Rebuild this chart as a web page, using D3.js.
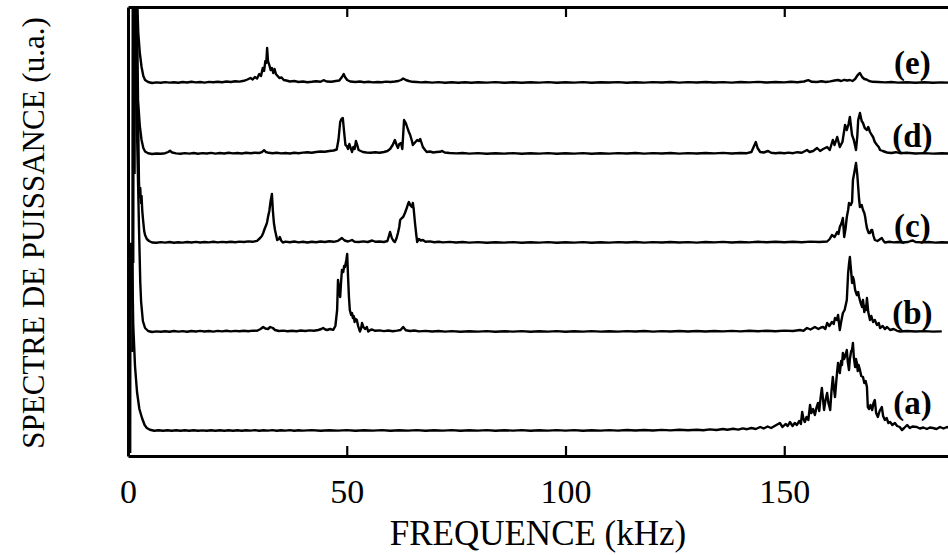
<!DOCTYPE html>
<html>
<head>
<meta charset="utf-8">
<script src="https://cdn.jsdelivr.net/npm/d3@7"></script>
<style>
  html, body { margin: 0; background: #fff; }
  svg { display: block; }
</style>
</head>
<body>
<svg id="chart" width="948" height="555"></svg>
<script>
// Power spectra (arbitrary units) vs frequency in kHz, one array of [kHz, level] per trace.
// Levels are measured from each trace's own noise floor.
const freqTicks = [0, 50, 100, 150];
const traceNames = ["(a)", "(b)", "(c)", "(d)", "(e)"];
const traceOffsets = [25, 124, 213, 302, 373];

const traceA = [
[0.5,-22],[0.55,187],[0.9,187],[1.2,106],[1.6,65],[2.06,39],[2.6,22],[3.2,13],[3.8,6],[4.3,3],[5,1.2],[6,0.3],[7,0.8],[8,0.2],[9,0.7],[10,0.3],[11,0.8],[12,0.2],[13,0.7],[14,0.3],[15,0.8],[16,0.2],[17,0.6],[18,0.3],[19,0.8],[20,0.2],[21,0.7],[22,0.3],[23,0.8],[24,0.2],[25,0.7],[26,0.3],[27,0.8],[28,0.4],[29,0.9],[30,0.3],[31,0.8],[32,0.4],[33,0.9],[34,0.3],[35,0.8],[36,0.4],[37,0.9],[38,0.3],[39,0.8],[40,0.4],[42,0.9],[44,0.3],[46,0.8],[48,0.4],[50,0.9],[52,0.3],[54,0.8],[56,0.4],[58,0.9],[60,0.3],[62,0.8],[64,0.4],[66,0.9],[68,0.3],[70,0.8],[72,0.4],[74,0.9],[76,0.3],[78,0.8],[80,0.4],[82,0.9],[84,0.3],[86,0.8],[88,0.4],[90,0.9],[92,0.3],[94,0.8],[96,0.4],[98,0.9],[100,0.4],[102,0.9],[104,0.3],[106,0.8],[108,0.4],[110,0.9],[112,0.4],[114,1],[116,0.5],[118,1],[120,0.5],[122,1.1],[124,0.6],[126,1.2],[128,0.7],[130,1.3],[131.5,0.8],[133,1.6],[134.5,1],[136,2],[137,1.2],[138.3,2.2],[139.5,1.4],[140.5,2.6],[141.5,1.8],[142.5,3],[143.5,2],[144.5,4],[145.3,2.5],[146.2,4.5],[147,3],[147.4,4],[148.2,6],[149,8],[149.6,4],[150.3,7],[150.8,5],[151.3,9],[151.9,5],[152.4,8],[152.9,6],[153.4,10],[153.8,7],[154.1,19],[154.4,12],[154.7,9],[155.1,14],[155.5,11],[155.9,26],[156.2,18],[156.6,22],[157.0,16],[157.4,24],[157.7,28],[158.0,20],[158.3,33],[158.6,43],[158.9,30],[159.1,21],[159.4,30],[159.8,38],[160.1,28],[160.5,21],[160.8,40],[161.1,54],[161.3,45],[161.6,34],[161.9,50],[162.1,60],[162.3,68],[162.5,62],[162.7,58],[163.0,70],[163.2,66],[163.4,78],[163.7,72],[164.0,76],[164.3,81],[164.5,70],[164.8,61],[165.0,72],[165.3,80],[165.5,81],[165.7,88],[165.9,74],[166.2,64],[166.4,72],[166.6,68],[166.8,60],[167.0,66],[167.3,61],[167.6,55],[168.0,54],[168.3,48],[168.6,50],[168.9,44],[169.1,24],[169.4,22],[169.7,26],[170.1,21],[170.4,28],[170.7,31],[171.0,18],[171.4,14],[171.8,20],[172.3,24],[172.6,15],[173.0,11],[173.4,13],[173.8,8],[174.2,9],[174.7,6],[175.3,8],[175.8,5],[176.4,4],[176.9,1],[177.4,3],[178.1,6],[178.7,3],[179.3,4.5],[180.3,4],[181,2.5],[181.8,3.5],[182.6,2],[183.3,3.5],[184,3],[184.8,2],[185.6,4],[186.4,2.5],[187.2,4],[188,3]
];

const traceB = [
[1.0,-20],[1.1,400],[2.06,200],[2.5,107],[2.8,50],[3.0,30],[3.4,11],[3.9,4],[4.6,1],[5.5,0],[6.5,0.6],[7.5,0.2],[8.5,0.8],[9.5,0.3],[10.5,1],[11.5,0.4],[12.5,0.9],[13.5,0.3],[14.5,1],[15.5,0.5],[16.5,1.1],[17.5,0.5],[18.5,1],[19.5,0.4],[20.5,1.1],[21.5,0.6],[22.5,1.2],[23.5,0.6],[24.5,1.1],[25.5,0.7],[26.5,1.3],[27.5,0.8],[28.5,1.4],[29.5,1.2],[30.3,3],[30.9,5],[31.4,3.5],[32.0,3],[32.5,5],[33.1,4],[33.6,2],[34.5,1],[35.5,1.4],[36.5,0.8],[37.5,1.3],[38.5,0.8],[39.5,1.5],[40.5,1],[41.5,1.6],[42.5,1.2],[43.5,2],[44.2,3],[44.6,4],[45.1,2.5],[45.5,2],[46.2,3],[46.9,2.2],[47.4,6],[47.8,22],[48.0,52],[48.3,40],[48.5,35],[48.7,50],[48.9,62],[49.2,60],[49.4,66],[49.6,65],[49.9,72],[50.1,78],[50.3,55],[50.5,35],[50.7,22],[51.0,17],[51.2,19],[51.4,14],[51.6,16],[51.8,10],[52.0,13],[52.3,12],[52.6,6],[53.0,0.5],[53.3,4],[53.5,9],[53.8,5],[54.2,3],[54.6,5],[54.9,0.5],[55.4,2],[55.8,2.5],[56.5,1.2],[57.5,1.6],[58.5,0.9],[59.5,1.5],[60.5,0.8],[61.5,1.4],[62.3,2],[62.9,5],[63.5,1.8],[64.5,1],[65.5,1.5],[66.5,0.6],[68,1.1],[69.5,0.5],[71,1],[72.5,0.4],[74,0.9],[76,0.3],[78,0.8],[80,0.4],[82,0.9],[84,0.3],[86,0.8],[88,0.4],[90,0.9],[92,0.3],[94,0.8],[96,0.4],[98,0.9],[100,0.3],[102,0.8],[104,0.4],[106,0.9],[108,0.4],[110,0.8],[112,0.4],[114,0.9],[116,0.5],[118,1],[120,0.4],[122,0.9],[124,0.5],[126,1],[128,0.5],[130,1],[132,0.5],[134,1],[136,0.6],[138,1.1],[140,0.6],[142,1.2],[144,0.7],[146,1.3],[148,0.8],[150,1.4],[152,1],[153.6,2],[154.4,1.2],[155.2,4],[156,2.5],[157,5],[157.8,3],[158.4,4.5],[158.9,5],[159.4,3],[159.8,9],[160.3,6],[160.9,10],[161.3,8],[161.6,14],[162,12],[162.3,17],[162.7,2],[163.0,10],[163.4,19],[163.8,22],[164.3,32],[164.6,59],[164.8,68],[165.0,75],[165.3,60],[165.5,49],[165.7,55],[165.9,52],[166.2,42],[166.6,37],[166.9,40],[167.1,35],[167.4,30],[167.8,25],[168.0,32],[168.3,20],[168.5,26],[168.7,22],[168.9,34],[169.2,20],[169.6,12],[169.9,16],[170.3,10],[170.7,12],[171.2,7],[171.6,9],[171.9,4],[172.5,6],[173,3],[173.5,5],[174.2,2],[175,3],[175.8,1.2],[176.5,0.5],[178,1],[180,0.5],[182,0.9],[184,0.4],[186,0.6]
];

const traceC = [
[1.2,-20],[1.3,300],[2.3,130],[2.5,62],[2.65,46],[2.8,55],[2.95,40],[3.1,47],[3.25,33],[3.4,25],[3.7,12],[3.9,8],[4.3,4],[4.8,2],[5.5,0.5],[6.5,0.2],[7.5,0.9],[8.5,0.4],[9.5,1],[10.5,0.3],[11.5,0.8],[12.5,0.4],[13.5,1],[14.5,0.5],[15.5,1.1],[16.5,0.5],[17.5,1],[18.5,0.6],[19.5,1.2],[20.5,0.6],[21.5,1.1],[22.5,0.7],[23.5,1.2],[24.5,0.8],[25.5,1.4],[26.5,1],[27.5,1.6],[28.5,1.2],[29.5,2.2],[30.2,5],[30.6,7],[30.9,10],[31.3,15],[31.6,18],[31.8,21],[32.0,26],[32.3,32],[32.6,42],[32.9,49],[33.1,33],[33.35,20],[33.6,13],[33.9,7],[34.1,3],[34.5,4],[34.7,6],[35.0,2.5],[35.4,0.5],[36,1.4],[37,0.8],[38,1.5],[39,0.6],[40,1.2],[41,0.5],[42,1.3],[43,0.7],[44,1.5],[45,1],[46,1.8],[47,1.2],[48,2.2],[48.9,5],[49.5,2.5],[50.3,1.5],[51.2,3],[51.8,1.2],[52.8,1],[53.8,1.6],[54.8,1],[55.8,2.5],[56.6,1.2],[57.5,1.5],[58.5,1],[59.3,2],[59.9,11],[60.3,5],[60.7,2],[61.0,1],[61.4,5],[61.7,10],[62.0,16],[62.2,23],[62.6,25],[62.9,26],[63.3,30],[63.8,36],[64.0,39],[64.2,41],[64.5,38],[64.9,36],[65.1,40],[65.3,34],[65.6,20],[65.9,8],[66.1,1],[66.5,4],[66.9,2.5],[67.4,3],[68,1.2],[69,1.6],[70,0.8],[71,1.3],[72,0.6],[73.5,1.1],[75,0.5],[76.5,1],[78,0.4],[80,0.9],[82,0.3],[84,0.8],[86,0.4],[88,0.9],[90,0.3],[92,0.8],[94,0.4],[96,0.9],[98,0.3],[100,0.8],[102,0.4],[104,0.9],[106,0.3],[108,0.8],[110,0.4],[112,0.9],[114,0.5],[116,1],[118,0.4],[120,0.9],[122,0.5],[124,1],[126,0.5],[128,0.9],[130,0.4],[132,1],[134,0.6],[136,1.1],[138,0.5],[140,1],[142,0.6],[144,1.2],[146,0.7],[148,1.3],[150,0.7],[152,1.2],[154,0.8],[156,1.4],[158,1],[159.8,1.5],[160.4,4],[160.9,8],[161.5,6],[162.1,11],[162.4,9],[162.7,16],[163.1,20],[163.4,25],[163.7,6],[164.0,14],[164.3,26],[164.6,33],[164.8,40],[165.2,38],[165.5,41],[165.7,63],[166.0,70],[166.4,80],[166.7,68],[166.9,56],[167.1,44],[167.3,36],[167.7,38],[168.0,33],[168.3,30],[168.5,26],[168.7,20],[168.9,15],[169.3,10],[169.6,10],[169.9,13],[170.1,13],[170.4,7],[170.7,3],[171.3,2],[171.8,3.5],[172.3,5],[172.7,2],[173.0,0.5],[174,1.2],[175,0.6],[176,1],[177,0.5],[178.3,1],[178.9,2],[179.4,2.5],[180,1],[181.5,0.6],[183,1],[184.5,0.4],[186,0.8],[188,0.4]
];

const traceD = [
[1.5,-20],[1.6,180],[2.06,146],[2.29,54],[2.7,28],[3.1,14],[3.5,6],[3.9,2.5],[4.6,0.8],[5.5,0],[6.5,0.5],[7.5,0.2],[8.5,0.8],[9.2,2],[9.6,3.2],[10.1,1.5],[11,0.6],[12,0.3],[13,0.9],[14,0.4],[15,1],[16,0.3],[17,0.9],[18,0.5],[19,1.1],[20,0.4],[21,1],[22,0.5],[23,1.2],[24,0.6],[25,1],[26,0.5],[27,1.2],[28,0.7],[29,1.3],[30,1],[30.6,1.8],[31.1,3.8],[31.5,2],[32.2,1.2],[33,0.8],[34,1.2],[35,0.6],[36,1],[37,0.5],[38,1.2],[39,0.8],[40,1.4],[41,1.8],[42,1.2],[43,2],[44,2.5],[45,2.2],[46,3],[47,3.5],[47.7,4.5],[48.1,14],[48.5,32],[48.8,35],[49.1,36],[49.4,22],[49.7,9],[50.0,8],[50.3,5],[50.6,10],[50.9,6],[51.2,2],[51.5,7],[51.8,5],[52.1,13],[52.4,9],[52.7,4],[53.2,3],[53.7,2],[54.5,1.5],[55.5,1.2],[56.5,1.8],[57.5,1.2],[58.5,2],[59.3,3],[59.9,5],[60.5,9],[61.0,14],[61.4,9],[61.7,6],[62.0,10],[62.4,11],[62.7,5],[63.1,34],[63.5,31],[63.8,27],[64.2,22],[64.5,19],[64.9,13],[65.1,9],[65.5,11],[66.1,14],[66.5,13],[66.8,15],[67.1,11],[67.4,7],[67.9,4],[68.3,2],[69,2.5],[69.8,1.5],[70.5,2],[71.3,2.2],[71.8,3],[72.4,1.5],[73.5,1],[75,0.6],[76.5,1],[78,0.4],[80,0.9],[82,0.3],[84,0.8],[86,0.4],[88,0.9],[90,0.3],[92,0.8],[94,0.4],[96,0.9],[98,0.3],[100,0.8],[102,0.4],[104,0.9],[106,0.3],[108,0.8],[110,0.4],[112,0.9],[114,0.5],[116,1],[118,0.4],[120,0.9],[122,0.5],[124,1],[126,0.4],[128,0.9],[130,0.5],[132,1],[134,0.6],[136,1.1],[138,0.5],[140,1],[141.5,0.8],[142.5,2],[143.1,8],[143.5,12],[143.9,6],[144.5,2],[145.3,1.5],[146.3,3],[147,1.2],[148,0.8],[149,1.2],[150,0.7],[151,1.4],[152,0.8],[153,1.8],[154,1.2],[155.2,4],[155.8,2],[156.6,3],[157.5,6],[158.2,3],[158.9,5],[159.8,7],[160.4,4],[161.1,14],[161.5,9],[162.1,17],[162.7,7],[163.3,12],[163.9,29],[164.3,24],[164.7,30],[165.0,37],[165.3,26],[165.5,19],[165.9,14],[166.4,4],[166.7,18],[166.9,34],[167.3,41],[167.7,33],[168.0,31],[168.4,26],[168.9,24],[169.2,27],[169.6,22],[170.0,19],[170.3,17],[170.7,12],[171.2,9],[171.6,7],[171.9,4],[172.5,3],[173.5,1.5],[174.5,1],[175.5,1.8],[176.5,0.8],[178,1.2],[180,0.5],[182,0.9],[184,0.4],[186,0.8],[188,0.4]
];

const traceE = [
[1.7,-20],[1.8,120],[2.35,50],[2.7,30],[3.1,16],[3.5,7],[3.9,3],[4.6,1],[5.5,0],[6.5,0.6],[7.5,0.2],[8.5,0.9],[9.5,0.4],[10.5,0.8],[11.5,0.2],[12.5,1],[13.5,0.5],[14.5,1.2],[15.5,0.6],[16.5,1],[17.5,0.4],[18.5,1.1],[19.5,0.7],[20.5,1.3],[21.5,0.8],[22.5,1.5],[23.5,1],[24.5,1.8],[25.5,1.4],[26.5,2.2],[27.3,3.5],[28,5],[28.5,3.5],[29,6],[29.5,4.5],[30,9],[30.4,7],[30.8,15],[31.1,12],[31.4,22],[31.6,20],[31.8,35],[32.0,22],[32.3,18],[32.6,13],[32.9,15],[33.2,10],[33.5,14],[33.8,9],[34.2,7],[34.6,5],[35.1,5.5],[35.6,3],[36.2,2.5],[37,1.5],[38,2],[39,1],[40,1.5],[41,0.8],[42,1.2],[43,1.8],[44,1.2],[44.7,2.8],[45.4,1.5],[46.5,1.2],[47.5,2],[48.3,2.5],[48.9,6],[49.3,9],[49.6,6],[50.1,3],[50.8,1.5],[52,1],[53,1.5],[54,0.8],[55,1.2],[56,0.6],[57,1],[58,0.8],[59,1.4],[60,1],[61,1.5],[61.8,2],[62.4,3],[62.9,4.5],[63.5,3],[64.2,2],[65,1.2],[66,1],[67,0.6],[68,1],[69.5,0.4],[71,0.9],[72.5,0.3],[74,0.8],[75.5,0.2],[77,0.7],[78.5,0.3],[80,0.8],[82,0.4],[84,0.9],[86,0.3],[88,0.7],[90,0.2],[92,0.8],[94,0.4],[96,0.9],[98,0.3],[100,0.7],[102,0.4],[104,0.9],[106,0.3],[108,0.8],[110,0.5],[112,0.9],[114,0.3],[116,0.8],[118,0.4],[120,0.9],[122,0.5],[124,1],[126,0.4],[128,0.9],[130,0.5],[132,1],[134,0.5],[136,0.9],[138,0.4],[140,1],[142,0.6],[144,1.1],[146,0.5],[148,1],[150,0.6],[151.5,1.2],[153,0.7],[154.5,1.5],[155.5,2.8],[156.3,1.2],[157.5,1],[158.5,1.8],[159.5,1],[160.5,1.6],[161.5,2.5],[162.3,3],[163,2],[163.7,3.2],[164.4,2.5],[165,3],[165.6,2],[166.2,4],[166.8,8],[167.3,10],[167.8,6],[168.3,4],[168.8,3.5],[169.4,2],[170.2,1.2],[171.5,1],[173,0.6],[174.5,1],[176,0.4],[178,0.8],[180,0.3],[182,0.7],[184,0.3],[186,0.6],[188,0.3]
];

const traces = [traceA, traceB, traceC, traceD, traceE];

// ---- layout ----
const plot = { left: 128, top: 7, bottom: 456, right: 960 };
const pxPerKHz = 4.375;
const serif = "'Liberation Serif', 'Times New Roman', serif";

const svg = d3.select("#chart");

const x = d3.scaleLinear()
  .domain([0, 190])
  .range([plot.left, plot.left + 190 * pxPerKHz]);
const y = d3.scaleLinear()
  .domain([0, plot.bottom - plot.top])
  .range([plot.bottom, plot.top]);

svg.append("defs").append("clipPath").attr("id", "plot-clip")
  .append("rect")
  .attr("x", plot.left).attr("y", plot.top)
  .attr("width", plot.right - plot.left).attr("height", plot.bottom - plot.top);

// traces
const line = d3.line().x(d => x(d[0]));
const traceG = svg.append("g").attr("clip-path", "url(#plot-clip)");
traces.forEach((tr, i) => {
  const off = traceOffsets[i];
  traceG.append("path")
    .datum(tr)
    .attr("fill", "none")
    .attr("stroke", "#000")
    .attr("stroke-width", 2.4)
    .attr("stroke-linejoin", "round")
    .attr("d", line.y(d => y(off + d[1])));
});

// frame and ticks
const bottomAxis = d3.axisBottom(x).tickValues(freqTicks).tickSize(-10).tickSizeOuter(0).tickPadding(23);
const topAxis = d3.axisTop(x).tickValues(freqTicks.slice(1)).tickSize(-10).tickSizeOuter(0).tickFormat("");
const leftAxis = d3.axisLeft(y).tickValues([]).tickSizeOuter(0);

const gb = svg.append("g").attr("transform", `translate(0,${plot.bottom})`).call(bottomAxis);
const gt = svg.append("g").attr("transform", `translate(0,${plot.top})`).call(topAxis);
const gl = svg.append("g").attr("transform", `translate(${plot.left},0)`).call(leftAxis);

[gb, gt, gl].forEach(g => {
  g.select(".domain").attr("stroke", "#000").attr("stroke-width", 3);
  g.selectAll(".tick line").attr("stroke", "#000").attr("stroke-width", 2.2);
});
gb.selectAll(".tick text")
  .attr("fill", "#000")
  .style("font-family", serif)
  .style("font-size", "34px");

// trace labels
const labelLift = [28, 19, 17, 18, 20];
svg.append("g").selectAll("text")
  .data(traceNames)
  .join("text")
  .attr("x", x(179.3))
  .attr("y", (d, i) => y(traceOffsets[i] + labelLift[i]))
  .attr("text-anchor", "middle")
  .attr("dominant-baseline", "central")
  .style("font-family", serif)
  .style("font-weight", "bold")
  .style("font-size", "33px")
  .text(d => d);

// axis titles
svg.append("text")
  .attr("x", 538).attr("y", 545)
  .attr("text-anchor", "middle")
  .style("font-family", serif)
  .style("font-size", "35px")
  .text("FREQUENCE (kHz)");

svg.append("text")
  .attr("transform", "translate(33,233) rotate(-90)")
  .attr("text-anchor", "middle")
  .attr("dominant-baseline", "central")
  .style("font-family", serif)
  .style("font-size", "31px")
  .text("SPECTRE DE PUISSANCE (u.a.)");
</script>
</body>
</html>
